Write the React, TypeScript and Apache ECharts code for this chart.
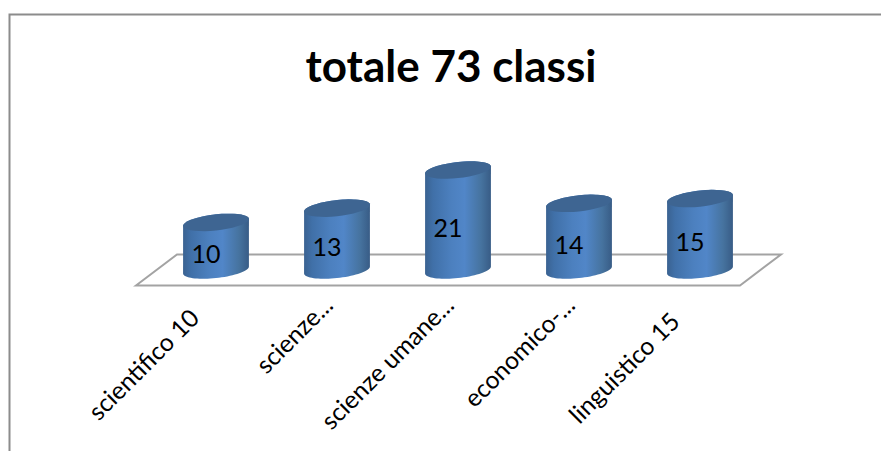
import React, { useEffect, useRef } from "react";
import * as echarts from "echarts";

const titleText = "totale 73 classi";
const categories = ["scientifico 10", "scienze...", "scienze umane...", "economico-...", "linguistico 15"];
const values = [10, 13, 21, 14, 15];
const labelPadding = [31, 13, 13, 13, 36];

const FONT = "Lato, Carlito, 'Open Sans', sans-serif";

function ellipsePoint(cx: number, cy: number, rx: number, ry: number, skew: number, t: number) {
  return [cx + rx * Math.cos(t), cy + ry * Math.sin(t) - skew * Math.cos(t)];
}

function sample(cx: number, cy: number, rx: number, ry: number, skew: number, from: number, to: number) {
  const n = 36;
  const pts: number[][] = [];
  for (let i = 0; i <= n; i++) {
    pts.push(ellipsePoint(cx, cy, rx, ry, skew, from + ((to - from) * i) / n));
  }
  return pts;
}

function renderCylinder(_params: any, api: any) {
  const v = api.value(1);
  const base = api.coord([api.value(0), 0]);
  const top = api.coord([api.value(0), v]);
  const mid = api.coord([api.value(0), v / 2]);
  const band = api.size([1, 0])[0];
  const rx = band * 0.272;
  const ry = rx * 0.245;
  const skew = rx * 0.105;
  const side = [
    ...sample(base[0], base[1], rx, ry, skew, 0, Math.PI),
    ...sample(top[0], top[1], rx, ry, skew, Math.PI, 2 * Math.PI),
  ];
  const lid = sample(top[0], top[1], rx, ry, skew, 0, 2 * Math.PI);
  return {
    type: "group",
    children: [
      {
        type: "polygon",
        shape: { points: side },
        style: {
          fill: new echarts.graphic.LinearGradient(0, 0, 1, 0, [
            { offset: 0, color: "#3a6291" },
            { offset: 0.12, color: "#4070a8" },
            { offset: 0.4, color: "#4c80bf" },
            { offset: 0.6, color: "#5186c8" },
            { offset: 0.85, color: "#46739f" },
            { offset: 1, color: "#385c86" },
          ]),
        },
      },
      {
        type: "polygon",
        shape: { points: lid },
        style: { fill: "#3e6592" },
      },
      {
        type: "text",
        x: mid[0] - 10,
        y: mid[1] + 7,
        style: {
          text: String(v),
          fill: "#000",
          font: `25px ${FONT}`,
          align: "center",
          verticalAlign: "middle",
        },
      },
    ],
  };
}

export default function App() {
  const ref = useRef<HTMLDivElement>(null);
  useEffect(() => {
    const chart = echarts.init(ref.current!, undefined, { renderer: "svg" });
    const rich: Record<string, any> = {};
    labelPadding.forEach((p, i) => {
      rich["l" + i] = {
        fontFamily: FONT,
        fontSize: 24.6,
        color: "#000",
        padding: [0, p, 0, 0],
      };
    });
    chart.setOption({
      animation: false,
      backgroundColor: "#fff",
      title: {
        text: titleText,
        left: 446,
        top: 38,
        textAlign: "center",
        textStyle: { fontFamily: FONT, fontWeight: "bold", fontSize: 44, color: "#000" },
      },
      grid: { left: 155.5, right: 120.5, top: 151, bottom: 181 },
      xAxis: {
        type: "category",
        data: categories,
        axisLine: { show: false },
        axisTick: { show: false },
        axisLabel: {
          interval: 0,
          rotate: 45,
          margin: 21,
          hideOverlap: false,
          formatter: (val: string, i: number) => `{l${i}|${val}}`,
          rich,
        },
      },
      yAxis: { type: "value", min: 0, max: 25, show: false },
      graphic: [
        {
          type: "polyline",
          z: 0,
          shape: { points: [[9.5, 451], [9.5, 14.5], [881, 14.5]] },
          style: { stroke: "#8c8c8c", lineWidth: 2, fill: "none" },
        },
        {
          type: "polygon",
          z: 0,
          shape: { points: [[136, 285.5], [177, 254.5], [781, 254.5], [740, 285.5]] },
          style: { stroke: "#a3a3a3", lineWidth: 2, fill: "#fff" },
        },
      ],
      series: [
        {
          type: "custom",
          renderItem: renderCylinder,
          encode: { x: 0, y: 1 },
          data: values.map((v, i) => [i, v]),
          clip: false,
        },
      ],
    });
    return () => chart.dispose();
  }, []);
  return <div ref={ref} style={{ position: "fixed", left: 0, top: 0, width: 881, height: 451 }} />;
}
